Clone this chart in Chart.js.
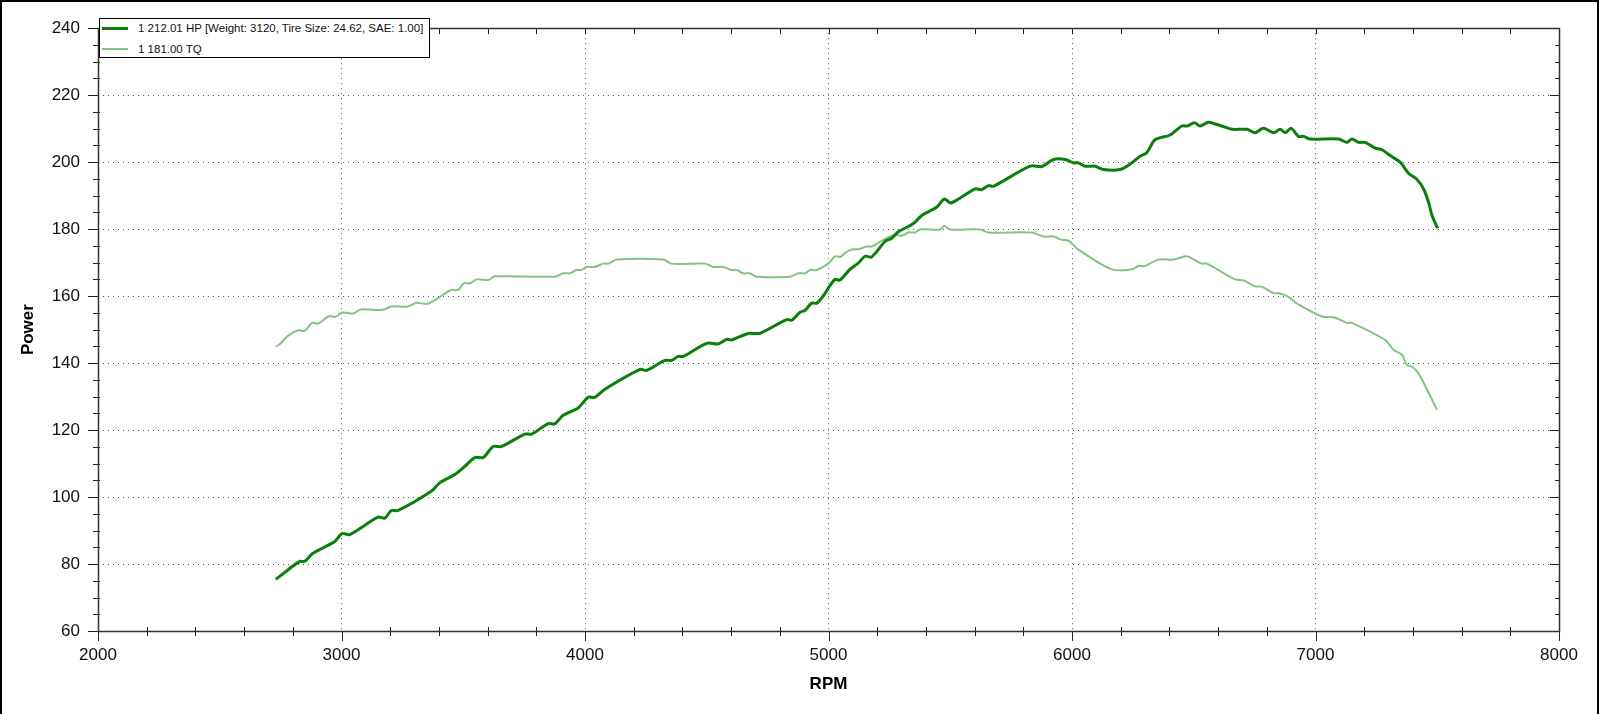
<!DOCTYPE html>
<html>
<head>
<meta charset="utf-8">
<title>Dyno</title>
<script src="https://cdn.jsdelivr.net/npm/chart.js@4.4.1/dist/chart.umd.min.js"></script>
<style>
    html, body { margin: 0; padding: 0; background: #fff; }
    #wrap { position: relative; width: 1599px; height: 714px; overflow: hidden; }
    #chart { position: absolute; left: 0; top: 0; }
    #frame { position: absolute; left: 0; top: 0; width: 1595px; height: 730px;
             border: 2px solid #000; pointer-events: none; }
    #legend { position: absolute; left: 99px; top: 18px; width: 331px; height: 40px;
              box-sizing: border-box; border: 1px solid #000; background: #fff;
              font: 11.5px "Liberation Sans", Arial, sans-serif; color: #111; }
    #legend .row { position: absolute; left: 0; height: 16px; line-height: 16px; white-space: nowrap; }
    #legend .swatch { position: absolute; left: 2px; width: 26px; }
    #legend .text { position: absolute; left: 38px; top: 0; }
</style>
</head>
<body>
<div id="wrap">
    <canvas id="chart" width="1599" height="714"></canvas>
    <div id="legend"></div>
    <div id="frame"></div>
</div>
<script>
"use strict";

// horsepower run
const HP_LABEL = "1 212.01 HP [Weight: 3120, Tire Size: 24.62, SAE: 1.00]";
const HP_RPM = [2730, 2781, 2829, 2849, 2883, 2972, 3002, 3034, 3150, 3178, 3205, 3233, 3370, 3404,
    3465, 3507, 3548, 3582, 3623, 3657, 3753, 3781, 3849, 3877, 3910, 3972, 4013, 4041, 4082, 4226,
    4253, 4328, 4356, 4383, 4404, 4500, 4547, 4582, 4602, 4636, 4677, 4719, 4828, 4849, 4883, 4903,
    4931, 4952, 4979, 5006, 5027, 5047, 5088, 5123, 5150, 5177, 5232, 5260, 5287, 5349, 5383, 5445,
    5476, 5503, 5602, 5629, 5657, 5677, 5828, 5876, 5924, 5972, 6006, 6026, 6054, 6095, 6129, 6198,
    6246, 6280, 6307, 6341, 6403, 6451, 6475, 6503, 6526, 6560, 6588, 6615, 6657, 6718, 6752, 6786,
    6828, 6855, 6876, 6900, 6930, 6951, 6978, 7095, 7129, 7150, 7177, 7204, 7245, 7273, 7314, 7348,
    7382, 7416, 7444, 7464, 7478, 7502];
const HP_VALUES = [75.4, 78.3, 80.8, 80.8, 83.2, 86.7, 89.1, 88.8, 94.0, 93.7, 96.0, 96.0, 101.8, 104.3,
    106.7, 109.2, 111.8, 111.8, 115.1, 115.1, 118.8, 118.8, 121.9, 121.9, 124.4, 126.6, 129.8, 129.8, 132.2, 138.1,
    137.8, 140.8, 140.8, 142.0, 142.0, 145.9, 145.7, 147.1, 146.9, 147.9, 148.9, 148.9, 153.0, 152.8, 155.2, 155.7,
    157.9, 157.9, 160.1, 163.1, 165.0, 164.8, 168.0, 169.9, 171.9, 171.7, 176.3, 177.3, 179.2, 181.7, 184.1, 186.6,
    189.0, 187.8, 192.0, 191.8, 193.0, 192.8, 198.8, 198.7, 200.8, 200.8, 199.8, 199.8, 198.8, 198.8, 197.8, 197.8,
    199.8, 201.8, 202.8, 206.7, 208.1, 210.8, 210.8, 211.8, 210.8, 211.9, 211.4, 210.8, 209.8, 209.8, 208.8, 210.1,
    208.8, 209.8, 208.8, 210.1, 207.7, 207.7, 206.9, 206.9, 205.9, 206.9, 205.9, 205.9, 204.2, 203.7, 201.6, 200.0,
    196.7, 194.9, 192.0, 188.1, 184.2, 180.2];

// torque run
const TQ_LABEL = "1 181.00 TQ";
const TQ_RPM = [2730, 2746, 2781, 2822, 2849, 2879, 2904, 2948, 2975, 3002, 3048, 3079, 3171, 3203,
    3274, 3308, 3353, 3404, 3452, 3477, 3504, 3527, 3555, 3602, 3630, 3877, 3910, 3938, 3965, 3986,
    4006, 4040, 4075, 4095, 4130, 4321, 4356, 4493, 4527, 4568, 4602, 4623, 4650, 4677, 4705, 4842,
    4876, 4903, 4924, 4951, 4999, 5027, 5047, 5068, 5095, 5123, 5157, 5177, 5225, 5273, 5301, 5328,
    5355, 5376, 5458, 5476, 5499, 5622, 5657, 5835, 5883, 5924, 5958, 5985, 6026, 6163, 6246, 6273,
    6300, 6355, 6417, 6465, 6478, 6533, 6554, 6670, 6704, 6752, 6780, 6828, 6855, 6889, 6923, 7026,
    7074, 7129, 7149, 7286, 7321, 7355, 7375, 7403, 7430, 7464, 7499];
const TQ_VALUES = [144.9, 145.6, 148.2, 149.8, 149.6, 152.0, 151.8, 154.0, 153.8, 155.1, 154.8, 156.0, 155.9, 156.9,
    156.9, 158.0, 157.7, 159.8, 161.9, 161.8, 163.9, 163.8, 165.0, 164.8, 165.9, 165.8, 166.8, 166.8, 167.8, 167.8,
    168.7, 168.7, 169.7, 169.7, 170.9, 170.9, 169.7, 169.7, 168.7, 168.7, 167.8, 167.8, 166.8, 166.8, 165.8, 165.8,
    166.8, 166.8, 167.8, 167.8, 169.7, 171.9, 171.7, 172.9, 173.9, 174.0, 174.8, 174.8, 176.8, 178.3, 178.0, 179.0,
    179.0, 179.9, 179.9, 180.9, 179.9, 179.9, 179.0, 179.0, 177.8, 177.8, 176.8, 176.6, 173.9, 168.0, 168.0, 169.0,
    169.0, 170.9, 170.9, 171.9, 171.8, 169.7, 169.7, 165.0, 164.7, 162.9, 162.8, 160.9, 160.8, 159.8, 157.8, 153.9,
    153.7, 152.0, 152.0, 146.9, 143.9, 142.5, 139.5, 138.6, 136.1, 131.2, 126.1];

const X_TICKS = [2000, 3000, 4000, 5000, 6000, 7000, 8000];
const Y_TICKS = [60, 80, 100, 120, 140, 160, 180, 200, 220, 240];
const X_TITLE = "RPM";
const Y_TITLE = "Power";

const FONT = '"Liberation Sans", Arial, sans-serif';
const HP_COLOR = '#0a800a';
const TQ_COLOR = '#82c482';

function points(xs, ys) {
    return xs.map((x, i) => ({ x: x, y: ys[i] }));
}

// axis frame with crossing major/minor tick marks on all four sides
const frameTicks = {
    id: 'frameTicks',
    afterDraw(chart) {
        const ctx = chart.ctx;
        const a = chart.chartArea;
        const xs = chart.scales.x;
        const ys = chart.scales.y;
        const xMin = X_TICKS[0], xMax = X_TICKS[X_TICKS.length - 1];
        const yMin = Y_TICKS[0], yMax = Y_TICKS[Y_TICKS.length - 1];
        const xMinor = (X_TICKS[1] - X_TICKS[0]) / 5;
        const yMinor = (Y_TICKS[1] - Y_TICKS[0]) / 4;
        ctx.save();
        ctx.strokeStyle = '#222';
        ctx.lineWidth = 1;
        ctx.beginPath();
        for (let v = xMin; v <= xMax + 0.001; v += xMinor) {
            const px = Math.round(xs.getPixelForValue(v)) + 0.5;
            const major = X_TICKS.some(t => Math.abs(t - v) < 0.01);
            if (major) {
                ctx.moveTo(px, a.bottom); ctx.lineTo(px, a.bottom + 10);
            } else {
                ctx.moveTo(px, a.bottom - 4); ctx.lineTo(px, a.bottom + 5);
            }
            ctx.moveTo(px, a.top); ctx.lineTo(px, a.top + 6);
        }
        for (let v = yMin; v <= yMax + 0.001; v += yMinor) {
            const py = Math.round(ys.getPixelForValue(v)) + 0.5;
            const major = Y_TICKS.some(t => Math.abs(t - v) < 0.01);
            const len = major ? 10 : 5;
            ctx.moveTo(a.left - len, py); ctx.lineTo(a.left + (major ? 0 : 2), py);
            ctx.moveTo(a.right - len + 1, py); ctx.lineTo(a.right, py);
        }
        ctx.stroke();
        ctx.lineWidth = 1.5;
        ctx.strokeStyle = '#333';
        ctx.strokeRect(Math.round(a.left) + 0.5, Math.round(a.top) + 0.5,
                       Math.round(a.right - a.left), Math.round(a.bottom - a.top));
        ctx.restore();
    }
};

const datasets = [
    {
        label: HP_LABEL,
        data: points(HP_RPM, HP_VALUES),
        borderColor: HP_COLOR,
        borderWidth: 3,
        pointRadius: 0,
        tension: 0.3,
        fill: false
    },
    {
        label: TQ_LABEL,
        data: points(TQ_RPM, TQ_VALUES),
        borderColor: TQ_COLOR,
        borderWidth: 2,
        pointRadius: 0,
        tension: 0.3,
        fill: false
    }
];

const chart = new Chart(document.getElementById('chart').getContext('2d'), {
    type: 'line',
    data: { datasets: datasets },
    options: {
        responsive: false,
        animation: false,
        events: [],
        layout: { padding: { top: 18, right: 40, left: 0, bottom: 0 } },
        plugins: { legend: { display: false }, tooltip: { enabled: false } },
        scales: {
            x: {
                type: 'linear',
                min: X_TICKS[0],
                max: X_TICKS[X_TICKS.length - 1],
                afterBuildTicks: s => { s.ticks = X_TICKS.map(v => ({ value: v })); },
                afterFit: s => { s.height = 83; },
                grid: { color: '#555', lineWidth: 1, drawTicks: false },
                border: { display: false, dash: [1, 4] },
                ticks: { color: '#111', padding: 14, maxRotation: 0,
                         callback: v => String(v),
                         font: { family: FONT, size: 17 } },
                title: { display: true, text: X_TITLE, color: '#000',
                         font: { family: FONT, size: 17, weight: 'bold' },
                         padding: { top: 0, bottom: 19 } }
            },
            y: {
                min: Y_TICKS[0],
                max: Y_TICKS[Y_TICKS.length - 1],
                afterBuildTicks: s => { s.ticks = Y_TICKS.map(v => ({ value: v })); },
                afterFit: s => { s.width = 98; },
                grid: { color: '#555', lineWidth: 1, drawTicks: false },
                border: { display: false, dash: [1, 4] },
                ticks: { color: '#111', padding: 18,
                         callback: v => String(v),
                         font: { family: FONT, size: 17 } },
                title: { display: true, text: Y_TITLE, color: '#000',
                         font: { family: FONT, size: 17, weight: 'bold' },
                         padding: { top: 18, bottom: 0 } }
            }
        }
    },
    plugins: [frameTicks]
});

// legend box drawn over the top-left of the plot
const legend = document.getElementById('legend');
const rowTops = [1, 22];
datasets.forEach(function _legendRow(ds, i) {
    const row = document.createElement('DIV');
    row.className = 'row';
    row.style.top = rowTops[i] + 'px';
    const swatch = document.createElement('SPAN');
    swatch.className = 'swatch';
    swatch.style.height = ds.borderWidth + 'px';
    swatch.style.top = (8 - ds.borderWidth / 2) + 'px';
    swatch.style.background = ds.borderColor;
    row.appendChild(swatch);
    const text = document.createElement('SPAN');
    text.className = 'text';
    text.textContent = ds.label;
    row.appendChild(text);
    legend.appendChild(row);
});
</script>
</body>
</html>
